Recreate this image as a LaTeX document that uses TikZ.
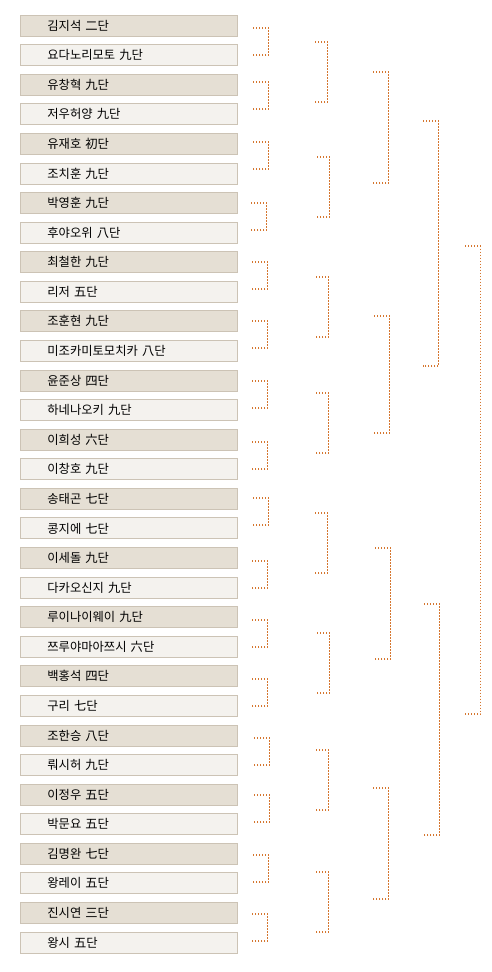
\documentclass[tikz,border=0pt]{standalone}
\usepackage{fontspec}
\newfontfamily\krfont{Noto Sans CJK KR}
\definecolor{darkfill}{HTML}{E5DFD4}
\definecolor{lightfill}{HTML}{F4F2EE}
\definecolor{boxline}{HTML}{CCC3B5}
\definecolor{brkcol}{HTML}{D5762F}
\newcommand\brkt[5]{%
  \coordinate (#1t) at (#2,#3);
  \coordinate (#1b) at (#2,#4);
  \draw[bracketline] (#1t) -- ++(#5,0) |- (#1b);}
\begin{document}
\begin{tikzpicture}[x=1pt,y=-1pt,
  player/.style={draw=boxline, line width=0.8pt, inner sep=0pt,
    text width=217pt, align=left, minimum height=21pt,
    text height=10.5pt, text depth=1.2pt,
    font=\krfont\fontsize{12.3}{13}\selectfont},
  darkp/.style={player, fill=darkfill},
  lightp/.style={player, fill=lightfill},
  bracketline/.style={draw=brkcol, line width=1.2pt, dash pattern=on 1.2pt off 1.8pt}]
\useasboundingbox (0,0) rectangle (491,972);
\foreach \i/\name in {
  1/김지석 二단, 2/요다노리모토 九단, 3/유창혁 九단, 4/저우허양 九단,
  5/유재호 初단, 6/조치훈 九단, 7/박영훈 九단, 8/후야오위 八단,
  9/최철한 九단, 10/리저 五단, 11/조훈현 九단, 12/미조카미토모치카 八단,
  13/윤준상 四단, 14/하네나오키 九단, 15/이희성 六단, 16/이창호 九단,
  17/송태곤 七단, 18/콩지에 七단, 19/이세돌 九단, 20/다카오신지 九단,
  21/루이나이웨이 九단, 22/쯔루야마아쯔시 六단, 23/백홍석 四단, 24/구리 七단,
  25/조한승 八단, 26/뤄시허 九단, 27/이정우 五단, 28/박문요 五단,
  29/김명완 七단, 30/왕레이 五단, 31/진시연 三단, 32/왕시 五단}{
  \pgfmathsetmacro\yy{25.5+29.58*(\i-1)}
  \ifodd\i\relax
    \node[darkp, anchor=west] (p\i) at (20,\yy) {\hspace*{27pt}\name};
  \else
    \node[lightp, anchor=west] (p\i) at (20,\yy) {\hspace*{27pt}\name};
  \fi
}
% round 1
\brkt{a1}{253}{28}{55}{15.7}
\brkt{a2}{253}{82}{109}{15.7}
\brkt{a3}{253}{142}{169}{15.7}
\brkt{a4}{251}{203}{230}{15.7}
\brkt{a5}{252}{262}{289}{15.7}
\brkt{a6}{252}{321}{348}{15.7}
\brkt{a7}{252}{381}{408}{15.7}
\brkt{a8}{252}{442}{469}{15.7}
\brkt{a9}{253}{498}{525}{15.7}
\brkt{a10}{252}{561}{588}{15.7}
\brkt{a11}{252}{620}{647}{15.7}
\brkt{a12}{252}{679}{706}{15.7}
\brkt{a13}{254}{738}{765}{15.7}
\brkt{a14}{254}{795}{822}{15.7}
\brkt{a15}{253}{855}{882}{15.7}
\brkt{a16}{252}{914}{941}{15.7}
% round 2
\brkt{b1}{315}{42}{102}{12.7}
\brkt{b2}{317}{157}{217}{12.7}
\brkt{b3}{316}{277}{337}{12.7}
\brkt{b4}{316}{393}{453}{12.7}
\brkt{b5}{315}{513}{573}{12.7}
\brkt{b6}{317}{633}{693}{12.7}
\brkt{b7}{316}{750}{810}{12.7}
\brkt{b8}{316}{872}{932}{12.7}
% round 3
\brkt{c1}{373}{72}{183}{15.7}
\brkt{c2}{374}{316}{433}{15.7}
\brkt{c3}{375}{548}{659}{15.7}
\brkt{c4}{373}{788}{899}{15.7}
% round 4
\brkt{d1}{423}{121}{366}{15.7}
\brkt{d2}{424}{604}{835}{15.7}
% round 5
\brkt{e1}{465}{246}{714}{15.4}
\end{tikzpicture}
\end{document}
